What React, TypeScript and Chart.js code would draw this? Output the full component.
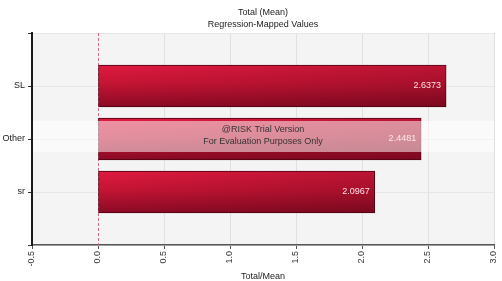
import React, { useEffect, useRef } from 'react';
import { Chart, registerables } from 'chart.js';

Chart.register(...registerables);

const titleLines = ['Total (Mean)', 'Regression-Mapped Values'];
const categories = ['SL', 'Other', 'sr'];
const values = [2.6373, 2.4481, 2.0967];
const valueLabels = ['2.6373', '2.4481', '2.0967'];
const xMin = -0.5;
const xMax = 3.0;
const xStep = 0.5;
const xTitle = 'Total/Mean';
const watermarkLines = ['@RISK Trial Version', 'For Evaluation Purposes Only'];
const watermarkCategory = 'Other';

const FONT = 'Arial, "Liberation Sans", sans-serif';

const paddedLabels = ['', ...categories, ''];
const paddedData: (number | null)[] = [null, ...values, null];

const extrasPlugin = {
  id: 'extras',
  beforeDraw(chart: any) {
    const { ctx, chartArea: a } = chart;
    ctx.save();
    ctx.fillStyle = '#ffffff';
    ctx.fillRect(0, 0, chart.width, chart.height);
    ctx.fillStyle = '#f4f4f4';
    ctx.fillRect(a.left, a.top, a.right - a.left, a.bottom - a.top);
    ctx.restore();
  },
  beforeDatasetsDraw(chart: any) {
    const { ctx, chartArea: a, scales } = chart;
    const x0 = Math.round(scales.x.getPixelForValue(0)) + 0.5;
    ctx.save();
    ctx.strokeStyle = '#d46a8c';
    ctx.lineWidth = 1;
    ctx.setLineDash([3, 2]);
    ctx.beginPath();
    ctx.moveTo(x0, a.top);
    ctx.lineTo(x0, a.bottom);
    ctx.stroke();
    ctx.restore();
  },
  afterDatasetsDraw(chart: any) {
    const { ctx, chartArea: a, scales } = chart;
    const meta = chart.getDatasetMeta(0);
    ctx.save();
    meta.data.forEach((el: any, i: number) => {
      if (paddedData[i] == null) return;
      const left = Math.min(el.base, el.x) + 1;
      const right = Math.max(el.base, el.x) - 1;
      const top = el.y - el.height / 2 + 1;
      const h = el.height - 2;
      const g = ctx.createLinearGradient(left, 0, right, 0);
      g.addColorStop(0, 'rgba(60,0,10,0)');
      g.addColorStop(1, 'rgba(60,0,10,0.22)');
      ctx.fillStyle = g;
      ctx.fillRect(left, top, right - left, h);
    });
    ctx.restore();

    const wi = paddedLabels.indexOf(watermarkCategory);
    const wy = scales.y.getPixelForValue(wi);
    ctx.save();
    ctx.fillStyle = 'rgba(255,255,255,0.52)';
    ctx.fillRect(a.left + 1, wy - 18, a.right - a.left - 1, 31);
    ctx.fillStyle = '#333333';
    ctx.font = `9px ${FONT}`;
    ctx.textAlign = 'center';
    ctx.textBaseline = 'middle';
    const cx = (a.left + a.right) / 2;
    ctx.fillText(watermarkLines[0], cx, wy - 9);
    ctx.fillText(watermarkLines[1], cx, wy + 3);
    ctx.restore();

    ctx.save();
    ctx.fillStyle = 'rgba(255,235,238,0.95)';
    ctx.font = `9px ${FONT}`;
    ctx.textAlign = 'right';
    ctx.textBaseline = 'middle';
    meta.data.forEach((el: any, i: number) => {
      if (paddedData[i] == null) return;
      ctx.fillText(valueLabels[i - 1], el.x - 5, el.y);
    });
    ctx.restore();
  },
  afterDraw(chart: any) {
    const { ctx, chartArea: a } = chart;
    const cx = (a.left + a.right) / 2;
    ctx.save();
    ctx.fillStyle = '#222222';
    ctx.font = `9px ${FONT}`;
    ctx.textAlign = 'center';
    ctx.textBaseline = 'middle';
    ctx.fillText(titleLines[0], cx, 13);
    ctx.fillText(titleLines[1], cx, 25);
    ctx.fillText(xTitle, cx, 277);
    ctx.restore();
  },
};

export default function App() {
  const canvasRef = useRef<HTMLCanvasElement | null>(null);

  useEffect(() => {
    document.body.style.margin = '0';
    const canvas = canvasRef.current;
    if (!canvas) return;
    const chart = new Chart(canvas, {
      type: 'bar',
      data: {
        labels: paddedLabels,
        datasets: [
          {
            data: paddedData,
            barThickness: 42,
            borderWidth: 1,
            borderColor: '#4a0010',
            borderSkipped: false,
            backgroundColor: (c: any) => {
              const chart = c.chart;
              const ys = chart.scales && chart.scales.y;
              if (!ys || c.type !== 'data') return '#c0142f';
              const cy = ys.getPixelForValue(c.dataIndex);
              if (!isFinite(cy)) return '#c0142f';
              const g = chart.ctx.createLinearGradient(0, cy - 21, 0, cy + 21);
              g.addColorStop(0, '#e01a40');
              g.addColorStop(0.45, '#c41434');
              g.addColorStop(1, '#8a0a24');
              return g;
            },
          },
        ],
      },
      options: {
        indexAxis: 'y',
        responsive: false,
        animation: false,
        events: [],
        layout: { padding: { top: 33, right: 8, left: 0, bottom: 0 } },
        plugins: {
          legend: { display: false },
          tooltip: { enabled: false },
          title: { display: false },
        },
        scales: {
          x: {
            type: 'linear',
            min: xMin,
            max: xMax,
            afterFit: (s: any) => {
              s.height = 36;
              s.paddingRight = 0;
              s.paddingLeft = 0;
            },
            ticks: {
              stepSize: xStep,
              minRotation: 90,
              maxRotation: 90,
              padding: 2,
              color: '#333333',
              font: { size: 9, family: FONT },
              callback: (v: any) => Number(v).toFixed(1),
            },
            grid: {
              color: (c: any) => (c.tick && c.tick.value === 0 ? 'rgba(0,0,0,0)' : '#e0e0e0'),
              tickColor: '#555555',
              tickLength: 4,
              lineWidth: 1,
            },
            border: { display: true, color: '#555555', width: 1.5 },
          },
          y: {
            type: 'category',
            offset: false,
            afterFit: (s: any) => {
              s.width = 32;
            },
            ticks: {
              padding: 3,
              color: '#222222',
              font: { size: 9, family: FONT },
              autoSkip: false,
            },
            grid: {
              offset: false,
              color: '#e6e6e6',
              tickColor: '#333333',
              tickLength: 4,
              lineWidth: 1,
            },
            border: { display: true, color: '#1a1a1a', width: 2 },
          },
        },
      },
      plugins: [extrasPlugin],
    });
    return () => chart.destroy();
  }, []);

  return (
    <div style={{ width: 502, height: 281 }}>
      <canvas ref={canvasRef} width={502} height={281} style={{ display: 'block' }} />
    </div>
  );
}
